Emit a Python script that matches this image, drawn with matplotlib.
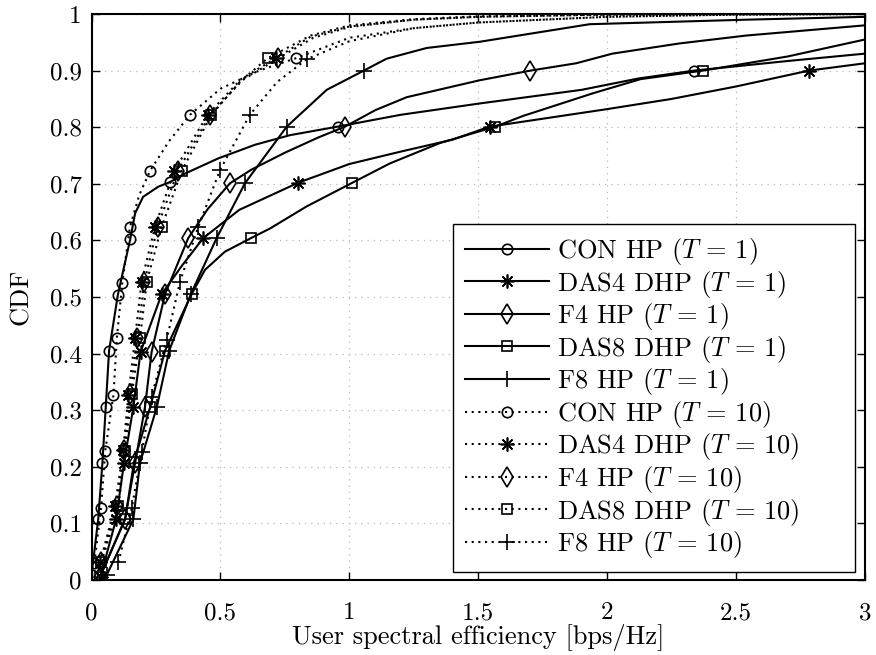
"""CDF of user spectral efficiency for the HP / DHP schemes at T = 1 and T = 10."""

import matplotlib

matplotlib.use("Agg")
import matplotlib.pyplot as plt
from matplotlib.lines import Line2D

plt.rcParams["font.family"] = "serif"
plt.rcParams["font.serif"] = ["cmr10"]
plt.rcParams["mathtext.fontset"] = "cm"
plt.rcParams["axes.unicode_minus"] = False
plt.rcParams["axes.formatter.use_mathtext"] = True

# ---- data (x in bps/Hz, y = CDF) ----
con1_x = [0.0, 0.026, 0.042, 0.055, 0.068, 0.102, 0.15, 0.169, 0.2, 0.259, 0.304, 0.362, 0.492,
          0.634, 0.77, 0.954, 1.2, 1.506, 1.9, 2.12, 2.336, 2.7, 3.0]
con1_y = [0.009, 0.108, 0.206, 0.305, 0.405, 0.504, 0.602, 0.648, 0.677, 0.695, 0.703, 0.718, 0.745,
          0.769, 0.786, 0.801, 0.822, 0.842, 0.866, 0.886, 0.900, 0.917, 0.930]
con1_mk = [0, 1, 2, 3, 4, 5, 6, 10, 15, 20]

das4_1_x = [0.035, 0.095, 0.126, 0.162, 0.19, 0.272, 0.35, 0.433, 0.573, 0.802, 1.0, 1.2, 1.4,
            1.544, 1.75, 2.0, 2.25, 2.5, 2.782, 3.0]
das4_1_y = [0.006, 0.107, 0.207, 0.305, 0.403, 0.505, 0.555, 0.604, 0.654, 0.702, 0.735, 0.757, 0.778,
            0.801, 0.815, 0.832, 0.85, 0.872, 0.900, 0.913]
das4_1_mk = [0, 1, 2, 3, 4, 5, 7, 9, 13, 18]

f4_1_x = [0.033, 0.13, 0.169, 0.207, 0.233, 0.285, 0.375, 0.45, 0.537, 0.62, 0.75, 0.88, 0.983,
          1.1, 1.222, 1.506, 1.702, 1.88, 2.02, 2.28, 2.54, 3.0]
f4_1_y = [0.006, 0.108, 0.207, 0.305, 0.403, 0.505, 0.604, 0.655, 0.701, 0.725, 0.755, 0.782, 0.801,
          0.83, 0.853, 0.883, 0.900, 0.913, 0.93, 0.948, 0.962, 0.98]
f4_1_mk = [0, 1, 2, 3, 4, 5, 6, 8, 12, 16]

das8_1_x = [0.033, 0.13, 0.165, 0.227, 0.285, 0.388, 0.44, 0.517, 0.618, 0.692, 0.834, 1.012, 1.157,
            1.351, 1.566, 1.674, 1.945, 2.13, 2.371, 2.7, 3.0]
das8_1_y = [0.006, 0.107, 0.209, 0.305, 0.405, 0.505, 0.548, 0.58, 0.604, 0.621, 0.66, 0.702, 0.736,
            0.772, 0.801, 0.82, 0.86, 0.885, 0.900, 0.925, 0.955]
das8_1_mk = [0, 1, 2, 3, 4, 5, 8, 11, 14, 18]

f8_1_x = [0.059, 0.162, 0.188, 0.253, 0.301, 0.385, 0.485, 0.595, 0.757, 0.912, 1.056, 1.144, 1.3,
          1.506, 1.932, 2.54, 3.0]
f8_1_y = [0.009, 0.107, 0.207, 0.305, 0.405, 0.505, 0.604, 0.701, 0.801, 0.866, 0.900, 0.921, 0.94,
          0.951, 0.982, 0.99, 0.995]
f8_1_mk = [0, 1, 2, 3, 4, 5, 6, 7, 8, 10]

con10_x = [0.011, 0.037, 0.053, 0.085, 0.098, 0.119, 0.149, 0.185, 0.227, 0.3, 0.382, 0.5, 0.65,
           0.793, 1.0, 1.25, 1.5, 2.0, 2.5, 3.0]
con10_y = [0.03, 0.128, 0.228, 0.327, 0.427, 0.524, 0.624, 0.68, 0.723, 0.775, 0.822, 0.868, 0.9,
           0.922, 0.958, 0.975, 0.985, 0.995, 0.999, 1.0]
con10_mk = [0, 1, 2, 3, 4, 5, 6, 8, 10, 13]

das4_10_x = [0.033, 0.091, 0.123, 0.143, 0.169, 0.194, 0.246, 0.321, 0.45, 0.58, 0.715, 0.85, 1.0,
             1.25, 1.5, 2.0, 3.0]
das4_10_y = [0.031, 0.13, 0.23, 0.327, 0.428, 0.527, 0.624, 0.723, 0.822, 0.885, 0.922, 0.96, 0.978,
             0.99, 0.995, 0.999, 1.0]
das4_10_mk = [0, 1, 2, 3, 4, 5, 6, 7, 8, 10]

f4_10_x = [0.035, 0.097, 0.126, 0.15, 0.178, 0.205, 0.256, 0.335, 0.46, 0.585, 0.725, 0.86, 1.0,
           1.25, 1.5, 2.0, 3.0]
f4_10_y = [0.031, 0.13, 0.23, 0.328, 0.428, 0.527, 0.624, 0.723, 0.822, 0.883, 0.922, 0.958, 0.977,
           0.99, 0.995, 0.999, 1.0]
f4_10_mk = [0, 1, 2, 3, 4, 5, 6, 7, 8, 10]

das8_10_x = [0.038, 0.104, 0.13, 0.156, 0.188, 0.214, 0.272, 0.35, 0.465, 0.575, 0.683, 0.85, 1.0,
             1.25, 1.5, 2.0, 3.0]
das8_10_y = [0.031, 0.13, 0.228, 0.329, 0.427, 0.527, 0.624, 0.723, 0.822, 0.88, 0.922, 0.962, 0.98,
             0.991, 0.996, 0.999, 1.0]
das8_10_mk = [0, 1, 2, 3, 4, 5, 6, 7, 8, 10]

f8_10_x = [0.104, 0.156, 0.195, 0.233, 0.291, 0.343, 0.414, 0.498, 0.614, 0.72, 0.834, 1.0, 1.25,
           1.5, 2.0, 2.5, 3.0]
f8_10_y = [0.031, 0.127, 0.227, 0.324, 0.424, 0.527, 0.624, 0.724, 0.822, 0.88, 0.92, 0.952, 0.975,
           0.985, 0.995, 0.999, 1.0]
f8_10_mk = [0, 1, 2, 3, 4, 5, 6, 7, 8, 10]

labels = [
    r"CON HP ($T\,=\,1$)", r"DAS4 DHP ($T\,=\,1$)", r"F4 HP ($T\,=\,1$)", r"DAS8 DHP ($T\,=\,1$)",
    r"F8 HP ($T\,=\,1$)", r"CON HP ($T\,=\,10$)", r"DAS4 DHP ($T\,=\,10$)", r"F4 HP ($T\,=\,10$)",
    r"DAS8 DHP ($T\,=\,10$)", r"F8 HP ($T\,=\,10$)",
]
x_ticks = [0, 0.5, 1, 1.5, 2, 2.5, 3]
x_ticklabels = ["0", "0.5", "1", "1.5", "2", "2.5", "3"]
y_ticks = [0, 0.1, 0.2, 0.3, 0.4, 0.5, 0.6, 0.7, 0.8, 0.9, 1]
y_ticklabels = ["0", "0.1", "0.2", "0.3", "0.4", "0.5", "0.6", "0.7", "0.8", "0.9", "1"]

series = [
    (con1_x, con1_y, con1_mk), (das4_1_x, das4_1_y, das4_1_mk), (f4_1_x, f4_1_y, f4_1_mk),
    (das8_1_x, das8_1_y, das8_1_mk), (f8_1_x, f8_1_y, f8_1_mk),
    (con10_x, con10_y, con10_mk), (das4_10_x, das4_10_y, das4_10_mk), (f4_10_x, f4_10_y, f4_10_mk),
    (das8_10_x, das8_10_y, das8_10_mk), (f8_10_x, f8_10_y, f8_10_mk),
]

# marker shape / size per scheme, line style per T
ASTERISK = (8, 2, 0)
markers = [("o", 7.5), (ASTERISK, 10), ("d", 10), ("s", 6.5), ("+", 12)] * 2
styles = ["-"] * 5 + [(0, (1, 2.2))] * 5

fig = plt.figure(figsize=(8.76, 6.55), dpi=100)
ax = fig.add_axes([0.1045, 0.1145, 0.8830, 0.8641])

handles = []
for (xs, ys, mk), (m, ms), ls, lab in zip(series, markers, styles, labels):
    style = dict(color="black", lw=1.5, ls=ls, marker=m, ms=ms, mfc="none", mec="black", mew=1.2)
    ax.plot(xs, ys, markevery=mk, **style)
    handles.append(Line2D([], [], label=lab, **style))

ax.set_xlim(0, 3)
ax.set_ylim(0, 1)
ax.set_xticks(x_ticks, x_ticklabels)
ax.set_yticks(y_ticks, y_ticklabels)
ax.tick_params(direction="in", length=6, width=1.0, top=True, right=True, labelsize=18)
ax.tick_params(axis="x", pad=16)
ax.tick_params(axis="y", pad=7)
ax.grid(True, color="#b8b8b8", ls=(0, (1, 4)), lw=0.9)
for sp in ax.spines.values():
    sp.set_linewidth(1.5)
ax.set_xlabel("User spectral efficiency [bps/Hz]", fontsize=19, labelpad=0)
ax.set_ylabel("CDF", fontsize=19, labelpad=12)

# legend box spans a fixed region of the axes, entries left-aligned inside it
leg = ax.legend(handles=handles, loc="lower left", bbox_to_anchor=(0.467, 0.014, 0.52, 0.61),
                mode="expand", borderaxespad=0, fontsize=19, numpoints=1, handlelength=3.2,
                handletextpad=0.3, labelspacing=0.06, fancybox=False, framealpha=1,
                edgecolor="black", borderpad=0.45)
leg.get_frame().set_linewidth(1.0)

fig.savefig("out.png", dpi=100)
